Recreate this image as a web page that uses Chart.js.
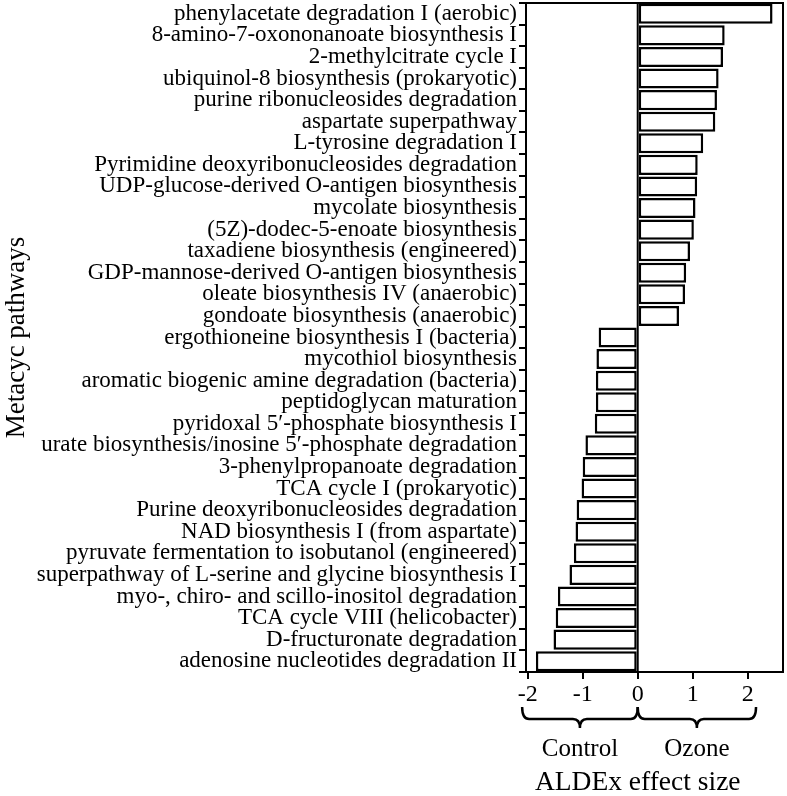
<!DOCTYPE html>
<html>
<head>
<meta charset="utf-8">
<script src="https://cdn.jsdelivr.net/npm/chart.js@4"></script>
<style>
  html, body { margin: 0; padding: 0; background: #fff; }
  #wrap { width: 787px; height: 796px; position: relative; }
</style>
</head>
<body>
<div id="wrap"><canvas id="chart"></canvas></div>
<script>
// pathways, top to bottom
const pathways = [
    'phenylacetate degradation I (aerobic)',
    '8-amino-7-oxononanoate biosynthesis I',
    '2-methylcitrate cycle I',
    'ubiquinol-8 biosynthesis (prokaryotic)',
    'purine ribonucleosides degradation',
    'aspartate superpathway',
    'L-tyrosine degradation I',
    'Pyrimidine deoxyribonucleosides degradation',
    'UDP-glucose-derived O-antigen biosynthesis',
    'mycolate biosynthesis',
    '(5Z)-dodec-5-enoate biosynthesis',
    'taxadiene biosynthesis (engineered)',
    'GDP-mannose-derived O-antigen biosynthesis',
    'oleate biosynthesis IV (anaerobic)',
    'gondoate biosynthesis (anaerobic)',
    'ergothioneine biosynthesis I (bacteria)',
    'mycothiol biosynthesis',
    'aromatic biogenic amine degradation (bacteria)',
    'peptidoglycan maturation',
    'pyridoxal 5\u2032-phosphate biosynthesis I',
    'urate biosynthesis/inosine 5\u2032-phosphate degradation',
    '3-phenylpropanoate degradation',
    'TCA cycle I (prokaryotic)',
    'Purine deoxyribonucleosides degradation',
    'NAD biosynthesis I (from aspartate)',
    'pyruvate fermentation to isobutanol (engineered)',
    'superpathway of L-serine and glycine biosynthesis I',
    'myo-, chiro- and scillo-inositol degradation',
    'TCA cycle VIII (helicobacter)',
    'D-fructuronate degradation',
    'adenosine nucleotides degradation II'
];

const effectSize = [
    2.45, 1.58, 1.55, 1.47, 1.44, 1.41, 1.19, 1.09, 1.08, 1.05, 1.02, 0.95, 0.88, 0.86, 0.75,
    -0.71, -0.75, -0.76, -0.76, -0.78, -0.95, -1.00, -1.02, -1.11, -1.13, -1.16, -1.24,
    -1.45, -1.49, -1.53, -1.85
];

const xTicks = [-2, -1, 0, 1, 2];
const groupNames = ['Control', 'Ozone'];
const groupRanges = [[-2.1, 0], [0, 2.15]];
const xTitle = 'ALDEx effect size';

const serif = 'Liberation Serif';

// box round the plot, zero line, the Control / Ozone braces and x title
const extras = {
    id: 'extras',
    afterDatasetsDraw(chart){
        const ctx = chart.ctx;
        const a = chart.chartArea;
        const x = chart.scales.x;
        ctx.save();
        ctx.strokeStyle = '#000';
        ctx.lineWidth = 2;
        const x0 = x.getPixelForValue(0);
        ctx.beginPath();
        ctx.moveTo(x0, a.top);
        ctx.lineTo(x0, a.bottom);
        ctx.stroke();
        ctx.strokeRect(a.left, a.top, a.right - a.left, a.bottom - a.top);
        ctx.restore();
    },
    afterDraw(chart){
        const ctx = chart.ctx;
        const x = chart.scales.x;
        const yTop = 707, yLine = 719, yTip = 728, r = 7;
        ctx.save();
        ctx.strokeStyle = '#000';
        ctx.lineWidth = 2.5;
        ctx.fillStyle = '#000';
        ctx.font = '25px "' + serif + '"';
        ctx.textAlign = 'center';
        ctx.textBaseline = 'middle';
        groupRanges.forEach(function(rg, i){
            const xa = x.getPixelForValue(rg[0]);
            const xb = x.getPixelForValue(rg[1]);
            const mid = (xa + xb) / 2;
            ctx.beginPath();
            ctx.moveTo(xa, yTop);
            ctx.quadraticCurveTo(xa, yLine, xa + r, yLine);
            ctx.lineTo(mid - r, yLine);
            ctx.quadraticCurveTo(mid, yLine, mid, yTip);
            ctx.quadraticCurveTo(mid, yLine, mid + r, yLine);
            ctx.lineTo(xb - r, yLine);
            ctx.quadraticCurveTo(xb, yLine, xb, yTop);
            ctx.stroke();
            ctx.fillText(groupNames[i], mid, 749);
        });
        ctx.font = '27.5px "' + serif + '"';
        ctx.fillText(xTitle, x.getPixelForValue(0), 783);
        ctx.restore();
    }
};

const ctx = document.getElementById('chart').getContext('2d');
const myChart = new Chart(ctx, {
    type: 'bar',
    data: {
        labels: pathways,
        datasets: [{
            data: effectSize,
            backgroundColor: '#fff',
            borderColor: '#000',
            borderWidth: 2.5,
            borderSkipped: false,
            barPercentage: 0.93,
            categoryPercentage: 1
        }]
    },
    options: {
        indexAxis: 'y',
        responsive: true,
        maintainAspectRatio: false,
        animation: false,
        layout: { padding: { top: 3, right: 4, left: 0, bottom: 0 } },
        plugins: {
            legend: { display: false },
            tooltip: { enabled: false }
        },
        scales: {
            x: {
                min: -2.03,
                max: 2.64,
                afterBuildTicks: function(s){
                    s.ticks = xTicks.map(v => ({ value: v }));
                },
                afterFit: function(s){
                    s.height = 124;
                    s.paddingLeft = 0;
                    s.paddingRight = 0;
                },
                grid: { drawOnChartArea: false, drawTicks: true, tickLength: 7, color: '#000', lineWidth: 2 },
                border: { display: true, color: '#000', width: 2 },
                ticks: {
                    color: '#000',
                    font: { family: serif, size: 24 },
                    padding: 1,
                    maxRotation: 0
                },
                title: { display: false }
            },
            y: {
                afterFit: function(s){
                    s.width = 526;
                    s.paddingTop = 0;
                    s.paddingBottom = 0;
                },
                grid: { drawOnChartArea: false, drawTicks: true, tickLength: 7, color: '#000', lineWidth: 2 },
                border: { display: true, color: '#000', width: 2 },
                ticks: {
                    color: '#000',
                    font: { family: serif, size: 23 },
                    padding: 2,
                    autoSkip: false
                },
                title: {
                    display: true,
                    text: 'Metacyc pathways',
                    color: '#000',
                    font: { family: serif, size: 27, lineHeight: 1 },
                    padding: { top: 3, bottom: 0 }
                }
            }
        }
    },
    plugins: [extras]
});
</script>
</body>
</html>
